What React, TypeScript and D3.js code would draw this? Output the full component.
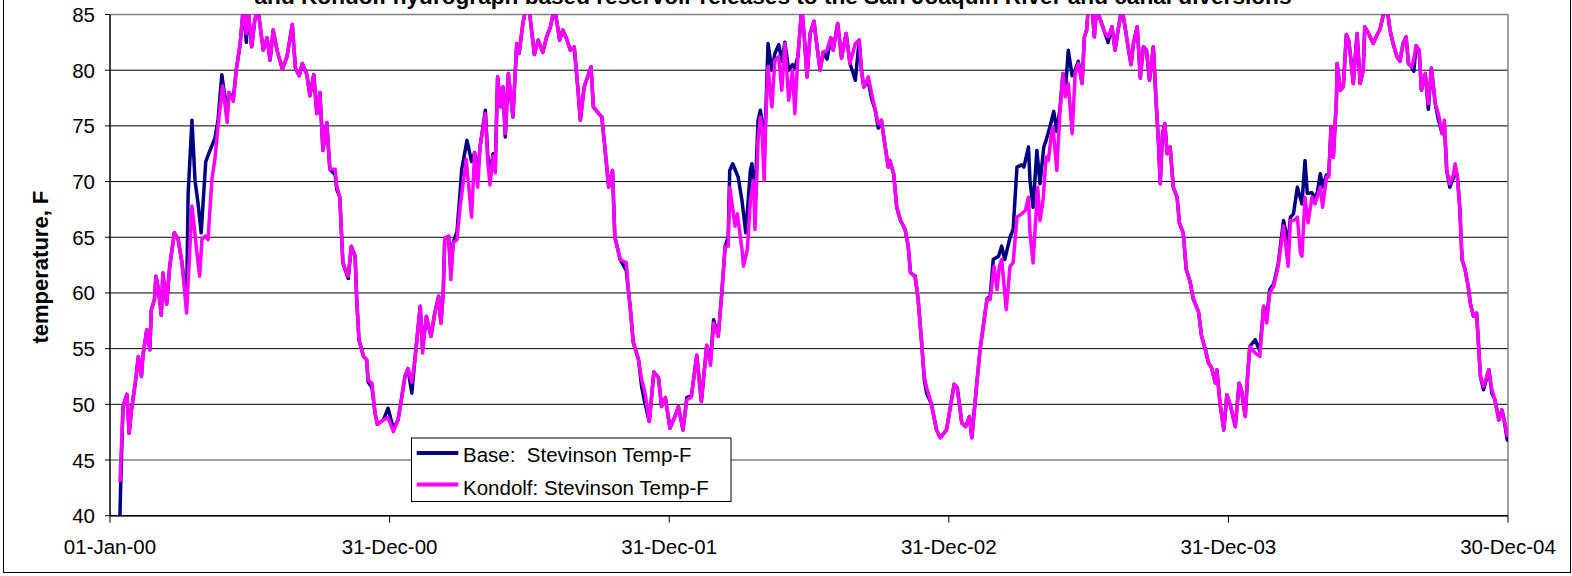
import React from "react";
import * as d3 from "d3";

// Day offsets from 01-Jan-2000 and temperatures (°F)
const kondolfSeries: [number, number][] = [
  [13,43.0],[17,49.8],[22,50.9],[25,47.4],[28,49.5],[33,51.9],[37,54.3],[41,52.5],[43,54.4],[48,56.7],
  [52,54.9],[54,58.5],[58,59.4],[60,61.5],[63,60.4],[67,58.0],[69,61.8],[74,59.0],[78,62.4],[84,65.4],
  [89,64.8],[94,62.7],[100,58.2],[107,67.8],[113,63.9],[117,61.5],[120,64.8],[124,65.1],[128,64.8],[133,70.2],
  [137,72.0],[141,75.0],[147,78.6],[153,75.3],[155,78.0],[161,77.2],[165,80.1],[170,82.4],[174,85.6],[178,83.3],
  [180,85.6],[185,82.1],[189,84.5],[193,85.6],[200,81.8],[205,82.9],[209,80.9],[213,83.6],[218,81.8],[225,80.1],
  [231,81.2],[238,84.1],[242,80.2],[247,79.5],[251,80.6],[257,79.6],[261,77.7],[266,79.6],[270,76.1],[274,78.0],
  [278,72.8],[283,75.3],[287,71.1],[294,71.1],[296,69.6],[300,68.6],[304,62.7],[311,61.5],[315,64.2],[320,63.3],
  [322,59.5],[325,55.8],[331,54.3],[335,54.0],[337,52.2],[342,51.9],[346,49.2],[349,48.2],[357,48.6],[363,48.8],
  [370,47.55],[376,48.6],[379,49.8],[385,52.5],[389,53.2],[394,52.0],[398,54.0],[405,58.8],[408,54.6],[413,57.9],
  [419,56.1],[424,58.2],[429,59.7],[432,57.3],[435,60.0],[437,64.9],[442,65.1],[445,61.2],[448,64.5],[453,64.8],
  [457,67.7],[465,72.0],[472,66.8],[476,72.6],[480,69.5],[483,73.1],[490,76.1],[493,71.9],[496,69.7],[500,72.3],
  [503,70.8],[506,79.4],[510,76.7],[513,78.5],[516,74.3],[520,79.7],[526,75.8],[531,82.4],[534,81.5],[539,84.2],
  [543,85.6],[547,85.6],[554,81.4],[559,82.7],[565,81.6],[570,83.0],[575,83.9],[580,85.6],[583,84.5],[587,82.7],
  [591,83.6],[595,83.0],[601,81.8],[606,82.1],[611,78.2],[614,75.5],[619,78.5],[622,79.1],[628,80.3],[631,76.7],
  [638,76.1],[642,75.8],[646,73.1],[651,69.5],[656,71.0],[659,65.05],[666,63.0],[674,62.7],[677,60.0],[679,58.8],
  [683,55.6],[690,54.0],[694,52.2],[698,51.2],[704,48.45],[710,52.9],[716,52.4],[720,49.8],[725,50.6],[731,47.85],
  [738,49.0],[742,49.8],[748,47.7],[753,50.4],[759,50.65],[766,54.4],[772,50.25],[779,55.3],[784,53.5],[788,57.3],
  [794,56.1],[799,60.3],[803,64.2],[807,64.2],[809,69.5],[816,66.0],[819,67.1],[825,63.9],[827,62.4],[832,63.9],
  [836,68.3],[840,70.1],[842,65.7],[846,73.7],[849,75.8],[851,74.9],[854,70.1],[856,75.3],[859,80.3],[864,76.7],
  [868,80.9],[873,81.2],[877,78.2],[881,82.4],[886,77.3],[891,80.0],[894,76.1],[898,81.2],[903,85.6],[906,83.3],
  [910,79.4],[914,83.3],[919,84.4],[923,82.1],[927,80.0],[931,81.6],[936,81.8],[941,82.9],[944,81.8],[950,84.2],
  [955,81.1],[961,83.3],[966,80.6],[973,82.4],[978,82.7],[981,80.0],[984,78.5],[990,79.4],[994,78.0],[999,76.4],
  [1003,75.2],[1007,75.5],[1012,73.1],[1016,71.3],[1018,71.9],[1023,70.7],[1027,67.7],[1032,66.5],[1038,65.7],[1042,64.2],
  [1045,61.8],[1051,61.5],[1055,59.4],[1059,56.0],[1063,52.5],[1066,51.5],[1072,50.1],[1079,47.7],[1084,47.0],[1092,47.7],
  [1102,51.8],[1106,51.5],[1112,48.3],[1117,48.0],[1122,48.9],[1125,47.0],[1132,52.2],[1136,55.0],[1141,57.5],[1145,59.5],
  [1149,59.4],[1154,62.4],[1158,60.3],[1161,62.4],[1164,63.0],[1170,58.5],[1175,62.4],[1179,62.7],[1184,66.8],[1190,67.1],
  [1195,67.4],[1199,68.6],[1201,65.4],[1205,62.7],[1211,69.5],[1214,66.5],[1218,68.3],[1222,72.2],[1225,71.9],[1229,74.3],
  [1231,74.9],[1236,71.0],[1240,76.1],[1244,79.7],[1247,77.6],[1251,78.8],[1256,74.3],[1260,79.7],[1264,80.6],[1269,78.8],
  [1272,83.0],[1275,83.6],[1277,85.6],[1282,85.6],[1285,83.0],[1288,85.6],[1292,84.7],[1299,83.3],[1303,83.0],[1308,83.9],
  [1312,81.8],[1316,83.6],[1321,85.6],[1325,83.9],[1329,82.1],[1333,80.5],[1336,82.4],[1341,83.9],[1345,79.3],[1349,82.1],
  [1353,81.8],[1357,79.1],[1362,82.1],[1366,76.7],[1369,73.1],[1371,69.8],[1374,74.3],[1377,75.2],[1380,72.5],[1384,73.1],
  [1388,69.5],[1393,68.6],[1396,66.3],[1401,65.4],[1405,62.1],[1410,61.0],[1414,59.5],[1421,58.3],[1425,56.1],[1430,54.9],
  [1434,53.7],[1438,53.3],[1443,51.9],[1445,53.1],[1449,50.1],[1454,47.7],[1458,50.85],[1463,49.8],[1469,48.0],[1474,51.9],
  [1477,51.3],[1482,48.9],[1485,52.5],[1488,55.2],[1495,54.6],[1501,54.3],[1506,58.8],[1510,57.3],[1514,60.0],[1519,60.6],
  [1525,62.4],[1532,66.0],[1538,62.4],[1541,66.5],[1545,66.5],[1550,66.8],[1554,63.6],[1556,63.3],[1560,68.6],[1564,66.3],
  [1569,68.6],[1573,68.0],[1576,68.6],[1580,69.5],[1583,67.7],[1588,70.4],[1591,70.4],[1594,74.9],[1597,72.2],[1601,77.3],
  [1602,80.6],[1606,78.2],[1610,78.5],[1614,83.2],[1617,82.7],[1620,80.9],[1623,78.8],[1628,83.3],[1632,78.8],[1636,80.0],
  [1638,83.9],[1643,83.3],[1649,82.4],[1655,83.3],[1658,83.7],[1662,84.9],[1667,85.6],[1671,83.6],[1675,82.4],[1680,81.2],
  [1684,80.8],[1688,82.4],[1692,83.0],[1695,80.6],[1699,80.3],[1702,81.0],[1705,82.2],[1709,81.8],[1712,78.2],[1717,79.7],
  [1721,77.0],[1725,80.2],[1730,77.0],[1734,76.1],[1739,74.3],[1742,75.5],[1745,71.0],[1749,69.8],[1754,70.7],[1756,71.6],
  [1759,70.4],[1762,67.7],[1765,63.0],[1769,62.1],[1773,60.6],[1776,59.0],[1780,57.9],[1784,58.2],[1789,52.5],[1793,51.6],
  [1800,53.1],[1804,51.3],[1808,50.4],[1813,48.6],[1817,49.5],[1820,48.6],[1824,47.2],[1825,48.0],
];

const baseSeries: [number, number][] = [
  [13,40.0],[14,42.9],[17,49.8],[22,50.9],[25,47.4],[28,49.5],[33,51.9],[37,54.3],[41,52.5],[43,54.4],[48,56.7],
  [52,54.9],[54,58.5],[58,59.4],[60,61.5],[63,60.4],[67,58.0],[69,61.8],[74,59.0],[78,62.4],[84,65.4],
  [89,64.8],[94,62.7],[100,59.0],[102,68.9],[107,75.5],[111,70.1],[115,68.0],[119,65.4],[125,71.8],[130,72.7],
  [137,73.9],[141,75.5],[146,79.6],[153,76.0],[155,78.0],[161,77.5],[165,80.1],[170,82.4],[174,85.6],[178,82.5],
  [180,85.6],[185,82.1],[189,84.5],[193,85.6],[200,81.8],[205,82.9],[209,80.9],[213,83.6],[218,81.8],[225,80.1],
  [231,81.2],[238,84.1],[242,80.2],[247,79.5],[251,80.6],[257,79.6],[261,77.7],[266,79.6],[270,76.1],[274,78.0],
  [278,72.8],[283,75.3],[287,71.1],[294,70.6],[296,69.3],[300,68.6],[304,62.7],[311,61.3],[315,64.2],[320,63.3],
  [322,59.5],[325,55.8],[331,54.3],[335,54.0],[337,52.0],[342,51.5],[346,49.2],[349,48.2],[357,48.6],[363,49.65],
  [370,47.8],[376,48.6],[379,49.8],[385,52.5],[389,53.2],[394,51.0],[398,54.0],[405,58.8],[408,55.0],[413,57.9],
  [419,56.1],[424,58.2],[429,59.7],[432,57.3],[435,60.0],[437,64.9],[442,65.1],[445,62.0],[448,64.5],[453,65.5],
  [457,69.0],[459,71.0],[466,73.7],[472,71.8],[476,72.6],[480,70.5],[483,73.1],[490,76.4],[493,72.5],[496,70.5],[500,72.5],
  [503,71.5],[506,79.4],[510,76.7],[513,78.5],[516,74.0],[520,79.7],[526,75.8],[531,82.4],[534,81.5],[539,84.2],
  [543,85.6],[547,85.6],[554,81.4],[559,82.7],[565,81.6],[570,83.0],[575,83.9],[580,85.6],[583,84.5],[587,82.7],
  [591,83.6],[595,83.0],[601,81.8],[606,82.1],[611,78.2],[614,75.5],[619,78.5],[622,79.1],[628,80.3],[631,76.7],
  [638,76.1],[642,75.8],[646,73.1],[651,69.5],[656,71.0],[659,65.05],[666,63.0],[674,62.0],[677,60.0],[679,58.8],
  [683,55.6],[690,54.0],[694,51.6],[698,50.2],[704,48.45],[710,52.9],[716,52.4],[720,49.8],[725,50.6],[731,47.85],
  [738,49.0],[742,49.8],[748,47.7],[753,50.6],[759,50.8],[766,54.4],[772,50.25],[779,55.3],[784,54.0],[788,57.6],
  [794,56.1],[799,60.3],[803,64.2],[807,65.0],[809,71.0],[813,71.6],[820,70.4],[825,68.3],[830,65.4],[836,71.0],
  [838,71.6],[842,68.5],[846,75.5],[849,76.4],[851,75.5],[854,72.0],[856,76.0],[859,82.4],[864,80.0],[868,81.5],
  [873,82.3],[877,80.8],[881,82.5],[886,80.0],[891,80.5],[894,80.2],[898,81.2],[903,85.6],[906,83.3],
  [910,79.4],[914,83.3],[919,84.4],[923,82.1],[927,80.0],[931,81.6],[936,81.0],[941,82.9],[944,81.8],[950,84.2],
  [955,81.1],[961,83.3],[966,80.6],[973,79.1],[978,82.7],[981,80.0],[984,78.5],[990,79.0],[994,77.5],[999,76.4],
  [1003,74.8],[1007,75.5],[1012,73.1],[1016,71.3],[1018,71.9],[1023,70.7],[1027,67.7],[1032,66.5],[1038,65.7],[1042,64.2],
  [1045,61.8],[1051,61.5],[1055,59.4],[1059,56.0],[1063,52.2],[1066,51.0],[1072,50.1],[1079,47.7],[1084,47.0],[1092,47.7],
  [1102,51.8],[1106,51.5],[1112,48.3],[1117,48.0],[1122,48.9],[1125,47.0],[1132,52.2],[1136,55.0],[1141,57.5],[1145,59.5],
  [1149,59.7],[1153,63.0],[1160,63.3],[1164,64.2],[1168,63.0],[1175,65.0],[1179,65.7],[1184,71.3],[1190,71.5],[1193,71.3],
  [1199,73.1],[1201,70.1],[1205,67.7],[1210,72.8],[1214,69.8],[1219,73.1],[1222,73.7],[1227,74.9],[1232,76.3],[1236,74.5],
  [1240,76.5],[1244,79.7],[1247,78.0],[1251,81.8],[1256,79.5],[1260,80.0],[1264,80.8],[1269,78.8],
  [1272,83.0],[1275,83.6],[1277,85.6],[1282,85.6],[1285,83.0],[1288,85.6],[1292,84.7],[1299,83.3],[1303,82.5],[1308,83.9],
  [1312,81.8],[1316,83.6],[1321,85.6],[1325,83.9],[1329,82.1],[1333,80.5],[1336,82.4],[1341,83.9],[1345,79.3],[1349,82.1],
  [1353,81.8],[1357,79.1],[1362,82.1],[1366,76.7],[1369,73.1],[1371,69.8],[1374,74.3],[1377,75.2],[1380,72.5],[1384,73.1],
  [1388,69.5],[1393,68.6],[1396,66.3],[1401,65.4],[1405,62.1],[1410,61.0],[1414,59.5],[1421,58.3],[1425,56.1],[1430,54.9],
  [1434,53.7],[1438,53.3],[1443,51.9],[1445,53.1],[1449,50.1],[1454,47.7],[1458,50.85],[1463,49.8],[1469,48.0],[1474,51.9],
  [1477,51.3],[1482,48.9],[1485,52.5],[1488,55.2],[1495,55.8],[1501,54.8],[1506,58.8],[1510,57.8],[1514,60.3],[1519,60.8],
  [1525,62.6],[1532,66.5],[1538,64.5],[1541,66.8],[1545,67.1],[1550,69.5],[1556,68.0],[1560,71.9],[1563,68.95],
  [1569,69.0],[1573,68.5],[1576,69.0],[1580,70.7],[1583,69.5],[1588,70.6],[1591,70.6],[1594,74.9],[1597,72.2],[1601,77.3],
  [1602,80.6],[1606,78.2],[1610,78.5],[1614,83.2],[1617,82.7],[1620,80.9],[1623,78.8],[1628,83.3],[1632,78.8],[1636,80.0],
  [1638,83.9],[1643,83.3],[1649,82.4],[1655,83.3],[1658,83.7],[1662,84.9],[1667,85.6],[1671,83.6],[1675,82.4],[1680,81.2],
  [1684,80.8],[1688,82.4],[1692,83.0],[1695,80.6],[1699,80.3],[1702,79.9],[1705,82.2],[1709,81.8],[1712,78.2],[1717,79.7],
  [1721,76.5],[1725,80.2],[1730,77.0],[1734,75.6],[1739,74.3],[1742,75.0],[1745,71.0],[1749,69.5],[1754,70.4],[1756,71.3],
  [1759,70.4],[1762,67.7],[1765,63.0],[1769,62.1],[1773,60.6],[1776,59.0],[1780,57.9],[1784,58.2],[1789,52.5],[1793,51.3],
  [1800,53.1],[1804,51.0],[1808,50.4],[1813,48.6],[1817,49.5],[1820,48.6],[1824,46.8],[1825,47.0],
];

const yTicks = [40, 45, 50, 55, 60, 65, 70, 75, 80, 85];
const xTickDays = [0, 365, 730, 1095, 1460, 1825];
const xTickLabels = ["01-Jan-00", "31-Dec-00", "31-Dec-01", "31-Dec-02", "31-Dec-03", "30-Dec-04"];
const seriesNames = ["Base:  Stevinson Temp-F", "Kondolf: Stevinson Temp-F"];
const seriesColors = ["#000080", "#FF00FF"];
const titleText = "and Kondolf hydrograph based reservoir releases to the San Joaquin River and canal diversions";
const yTitle = "temperature, F";

export default function App() {
  const W = 1572, H = 576;
  const left = 110, right = 1508, top = 14.5, bottom = 515.7;
  const x = d3.scaleLinear().domain([0, 1825]).range([left, right]);
  const y = d3.scaleLinear().domain([40, 85]).range([bottom, top]);
  const line = d3.line<[number, number]>().x(d => x(d[0])).y(d => y(d[1]));
  const font = "'Liberation Sans', Arial, sans-serif";
  const legX = 411.5, legY = 438, legW = 319.5, legH = 63.5;

  return (
    <svg width={W} height={H} style={{ position: "absolute", left: 0, top: 0, background: "#fff" }} fontFamily={font}>
      <defs>
        <clipPath id="plotClip">
          <rect x={left} y={top} width={right - left} height={bottom - top} />
        </clipPath>
      </defs>
      <rect x={0} y={0} width={W} height={H} fill="#fff" />
      {/* outer chart frame */}
      <rect x={3.5} y={-2} width={W - 5} height={H - 1.5} fill="none" stroke="#000" strokeWidth={1} />
      {/* title (cut off at top) */}
      <text x={773} y={4} textAnchor="middle" fontSize={22} fontWeight="bold" fill="#000" textLength={1037} lengthAdjust="spacingAndGlyphs">{titleText}</text>
      {/* gridlines */}
      {yTicks.map(t => (
        <line key={t} x1={left} x2={right} y1={y(t)} y2={y(t)} stroke={t === 85 || t === 45 ? "#808080" : "#000"} strokeWidth={t === 85 || t === 45 ? 1.5 : 1} />
      ))}
      {/* right border */}
      <line x1={right} x2={right} y1={top} y2={bottom} stroke="#808080" strokeWidth={1.5} />
      {/* series */}
      <g clipPath="url(#plotClip)">
        <path d={line(baseSeries) || ""} fill="none" stroke={seriesColors[0]} strokeWidth={3.5} strokeLinejoin="round" />
        <path d={line(kondolfSeries) || ""} fill="none" stroke={seriesColors[1]} strokeWidth={3.5} strokeLinejoin="round" />
      </g>
      {/* axes */}
      <line x1={left} x2={left} y1={top} y2={bottom} stroke="#000" strokeWidth={1.5} />
      <line x1={left} x2={right} y1={bottom} y2={bottom} stroke="#000" strokeWidth={1.5} />
      {yTicks.map(t => (
        <g key={"yt" + t}>
          <line x1={left - 5} x2={left} y1={y(t)} y2={y(t)} stroke="#000" />
          <text x={95} y={y(t) + 7.5} textAnchor="end" fontSize={20.5} fill="#000">{t}</text>
        </g>
      ))}
      {xTickDays.map((d, i) => (
        <g key={"xt" + d}>
          <line x1={x(d)} x2={x(d)} y1={bottom} y2={bottom + 7} stroke="#000" />
          <text x={x(d)} y={554} textAnchor="middle" fontSize={20.5} fill="#000">{xTickLabels[i]}</text>
        </g>
      ))}
      <text transform={`translate(48,${(top + bottom) / 2 + 2}) rotate(-90)`} textAnchor="middle" fontSize={22} fontWeight="bold" fill="#000">{yTitle}</text>
      {/* legend */}
      <rect x={legX} y={legY} width={legW} height={legH} fill="#fff" stroke="#000" strokeWidth={1} />
      {seriesNames.map((n, i) => (
        <g key={n}>
          <line x1={416.7} x2={458.3} y1={453 + i * 31.5} y2={453 + i * 31.5} stroke={seriesColors[i]} strokeWidth={4} />
          <text x={463} y={461.7 + i * 33} fontSize={20.5} fill="#000" style={{ whiteSpace: "pre" }}>{n}</text>
        </g>
      ))}
    </svg>
  );
}
